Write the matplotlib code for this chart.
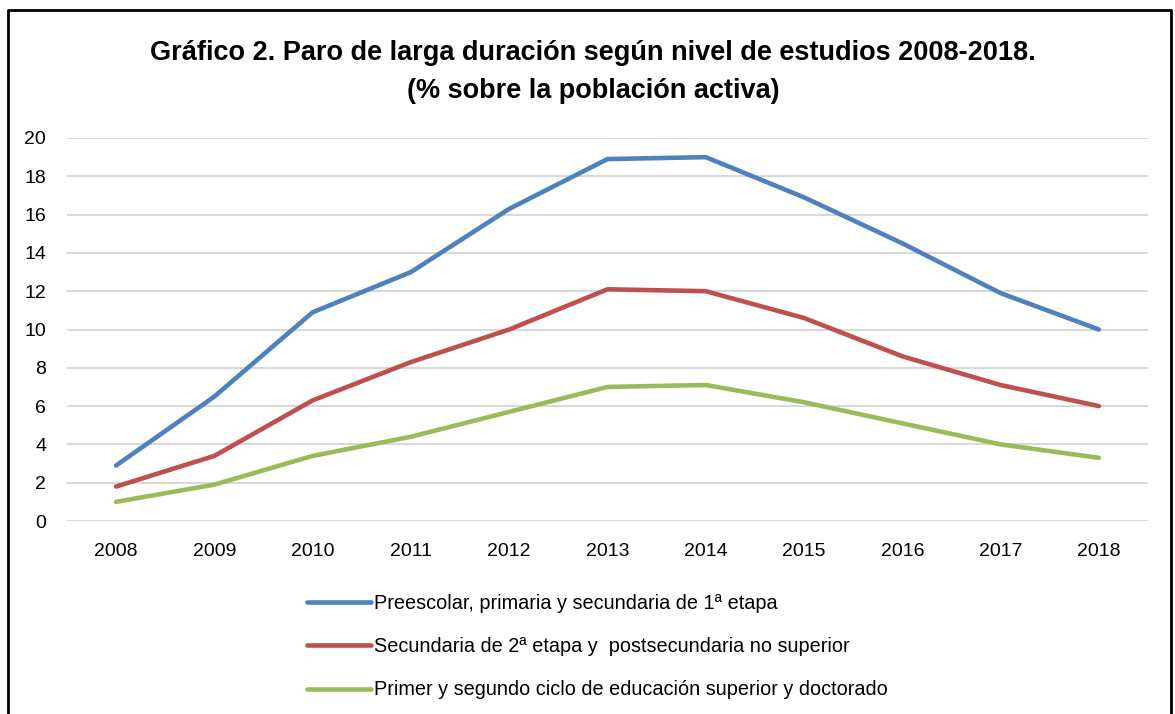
import matplotlib
matplotlib.use('Agg')
import matplotlib.pyplot as plt
from matplotlib import font_manager
from matplotlib.lines import Line2D

# data #
years = ['2008', '2009', '2010', '2011', '2012', '2013', '2014', '2015', '2016', '2017', '2018']
preescolar = [2.9, 6.5, 10.9, 13.0, 16.3, 18.9, 19.0, 16.9, 14.5, 11.9, 10.0]
secundaria = [1.8, 3.4, 6.3, 8.3, 10.0, 12.1, 12.0, 10.6, 8.6, 7.1, 6.0]
superior = [1.0, 1.9, 3.4, 4.4, 5.7, 7.0, 7.1, 6.2, 5.1, 4.0, 3.3]
labels = ['Preescolar, primaria y secundaria de 1ª etapa',
          'Secundaria de 2ª etapa y  postsecundaria no superior',
          'Primer y segundo ciclo de educación superior y doctorado']
colors = ['#4F81BD', '#C0504D', '#9BBB59']

# font: narrow sans if available #
names = set(f.name for f in font_manager.fontManager.ttflist)
family = 'Liberation Sans Narrow' if 'Liberation Sans Narrow' in names else 'Liberation Sans'
plt.rcParams['font.family'] = [family, 'DejaVu Sans']

W, H = 1175, 714
fig = plt.figure(figsize=(W / 100, H / 100), dpi=100)
ax = fig.add_axes([67 / W, 1 - 521 / H, (1148 - 67) / W, (521 - 138) / H])

x = list(range(len(years)))
for series, c, lab in zip([preescolar, secundaria, superior], colors, labels):
    ax.plot(x, series, color=c, lw=3.3, solid_capstyle='round', solid_joinstyle='round', label=lab)

ax.set_xlim(-0.5, len(years) - 0.5)
ax.set_ylim(0, 20)
ax.set_yticks(range(0, 21, 2))
ax.set_xticks(x)
ax.set_xticklabels(years)
ax.grid(axis='y', color='#D9D9D9', lw=1.5)
ax.set_axisbelow(True)
for s in ax.spines.values():
    s.set_visible(False)
ax.tick_params(length=0, labelsize=14, colors='black')
ax.tick_params(axis='x', pad=16)
ax.tick_params(axis='y', pad=15)

# title #
fig.text(593 / W, 1 - 72 / H, 'Gráfico 2. Paro de larga duración según nivel de estudios 2008-2018.\n(% sobre la población activa)',
         ha='center', va='center', fontsize=19.5, fontweight='bold', linespacing=1.6)

# legend #
handles = [Line2D([0], [0], color=c, lw=3.3, solid_capstyle='round') for c in colors]
fig.legend(handles, labels, loc='upper left', bbox_to_anchor=(307 / W, 1 - 594 / H),
           frameon=False, fontsize=14.3, handlelength=3.2, handletextpad=0.15,
           labelspacing=1.22, borderaxespad=0, borderpad=0)

# frame border (cut at bottom) #
fig.add_artist(Line2D([8 / W, 8 / W, 1171 / W, 1171 / W], [0, 1 - 10 / H, 1 - 10 / H, 0],
                      transform=fig.transFigure, color='black', lw=2))

plt.savefig('out.png', dpi=100)
